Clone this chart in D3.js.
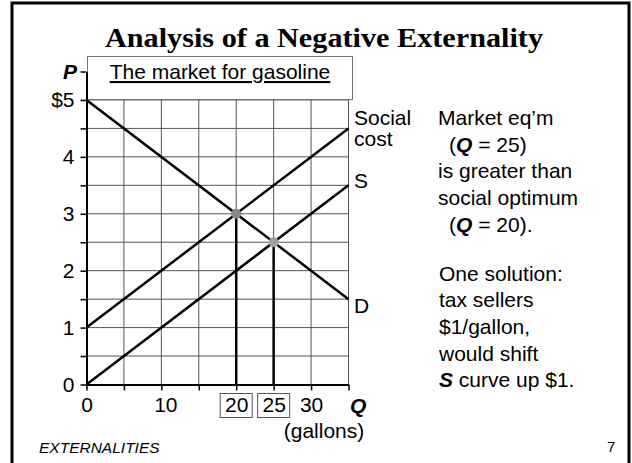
<!DOCTYPE html>
<html lang="en">
<head>
  <meta charset="UTF-8">
  <title>Analysis of a Negative Externality</title>
  <script src="https://d3js.org/d3.v7.min.js"></script>
  <style>
    body { margin: 0; background: #fff; }
    text { font-family: "Liberation Sans", Arial, sans-serif; fill: #000; }
  </style>
</head>
<body>
<script>
  // quantities (gallons) and prices ($)
  const qTicks = [0, 10, 20, 25, 30];
  const boxedQ = [20, 25];
  const pTicks = [0, 1, 2, 3, 4, 5];
  // curves as [Q, P] end points
  const demand = [[0, 5], [35, 1.5]];
  const supply = [[0, 0], [35, 3.5]];
  const socialCost = [[0, 1], [35, 4.5]];
  // equilibria: social optimum and market eq'm
  const points = [[20, 3], [25, 2.5]];
  const pointColors = ["#888", "#a0a0a0"];

  const W = 632, H = 463;
  const FS = "21px";
  const svg = d3.select("body").append("svg")
    .attr("width", W).attr("height", H);

  // slide frame
  svg.append("rect")
    .attr("x", 12).attr("y", 3).attr("width", 617).attr("height", 520)
    .attr("fill", "none").attr("stroke", "#000").attr("stroke-width", 3);

  svg.append("text")
    .attr("x", 105).attr("y", 47)
    .attr("textLength", 438).attr("lengthAdjust", "spacingAndGlyphs")
    .style("font-family", "'Liberation Serif', 'DejaVu Serif', serif")
    .style("font-weight", "bold").style("font-size", "28px")
    .text("Analysis of a Negative Externality");

  const x = d3.scaleLinear().domain([0, 35]).range([86.5, 348.5]);
  const y = d3.scaleLinear().domain([0, 5.5]).range([384.5, 71.5]);

  // grid
  const g = svg.append("g");
  g.selectAll("line.v").data(d3.range(5, 36, 5)).enter().append("line")
    .attr("x1", d => x(d)).attr("x2", d => x(d))
    .attr("y1", y(0)).attr("y2", y(5))
    .attr("stroke", "#555").attr("stroke-width", 1);
  g.selectAll("line.h").data(d3.range(0.5, 5.01, 0.5)).enter().append("line")
    .attr("x1", x(0)).attr("x2", x(35))
    .attr("y1", d => y(d)).attr("y2", d => y(d))
    .attr("stroke", "#555").attr("stroke-width", 1);

  // title box
  svg.append("rect")
    .attr("x", 87.5).attr("y", 56.5).attr("width", 265).attr("height", 43)
    .attr("fill", "#fff").attr("stroke", "#777").attr("stroke-width", 1);
  svg.append("text")
    .attr("x", 220).attr("y", 79).attr("text-anchor", "middle")
    .style("font-size", FS).style("text-decoration", "underline")
    .text("The market for gasoline");

  // axes
  const yAxis = svg.append("g")
    .attr("transform", `translate(${x(0)},0)`)
    .call(d3.axisLeft(y).tickValues(d3.range(0, 5.51, 0.5)).tickSize(6).tickSizeOuter(0)
      .tickFormat(d => pTicks.includes(d) ? (d === 5 ? "$5" : d) : ""));
  const xAxis = svg.append("g")
    .attr("transform", `translate(0,${y(0)})`)
    .call(d3.axisBottom(x).tickValues(d3.range(0, 36, 5)).tickSize(6).tickSizeOuter(0)
      .tickFormat(d => qTicks.includes(d) ? d : ""));
  [yAxis, xAxis].forEach(a => {
    a.select(".domain").attr("stroke", "#000").attr("stroke-width", 2);
    a.selectAll(".tick line").attr("stroke", "#000").attr("stroke-width", 1.5);
    a.selectAll("text").style("font-family", "'Liberation Sans', Arial, sans-serif")
      .style("font-size", FS).attr("fill", "#000");
  });
  yAxis.selectAll(".tick text").attr("x", -12);
  xAxis.selectAll(".tick text").attr("y", 13)
    .attr("dx", d => d === 10 ? 4 : 0);

  // boxes round the two quantities
  svg.selectAll("rect.qbox").data(boxedQ).enter().append("rect")
    .attr("x", d => x(d) - 16).attr("y", 393.5).attr("width", 32).attr("height", 24)
    .attr("fill", "none").attr("stroke", "#555").attr("stroke-width", 1);

  svg.append("text").attr("x", 63).attr("y", 79)
    .style("font-weight", "bold").style("font-style", "italic").style("font-size", FS)
    .text("P");
  svg.append("text").attr("x", 350).attr("y", 413)
    .style("font-weight", "bold").style("font-style", "italic").style("font-size", FS)
    .text("Q");
  svg.append("text").attr("x", 324).attr("y", 438).attr("text-anchor", "middle")
    .style("font-size", FS).text("(gallons)");

  // drop lines
  svg.selectAll("line.drop").data(points).enter().append("line")
    .attr("x1", d => x(d[0])).attr("x2", d => x(d[0]))
    .attr("y1", d => y(d[1])).attr("y2", y(0))
    .attr("stroke", "#000").attr("stroke-width", 2.5);

  // curves
  const line = d3.line().x(d => x(d[0])).y(d => y(d[1]));
  [demand, supply, socialCost].forEach(c => {
    svg.append("path").attr("d", line(c))
      .attr("fill", "none").attr("stroke", "#000").attr("stroke-width", 2.5);
  });

  svg.selectAll("circle.eq").data(points).enter().append("circle")
    .attr("cx", d => x(d[0])).attr("cy", d => y(d[1])).attr("r", 5)
    .attr("fill", (d, i) => pointColors[i]);

  // curve labels
  const lab = (t, px, py) => svg.append("text").attr("x", px).attr("y", py)
    .style("font-size", FS).text(t);
  lab("Social", 354, 125);
  lab("cost", 354, 146);
  lab("S", 354, 188);
  lab("D", 354, 313);

  // side notes
  const note = (parts, px, py) => {
    const t = svg.append("text").attr("x", px).attr("y", py).style("font-size", FS);
    parts.forEach(p => {
      t.append("tspan").text(p[0])
        .style("font-weight", p[1] ? "bold" : null)
        .style("font-style", p[1] ? "italic" : null);
    });
  };
  note([["Market eq’m"]], 438, 125);
  note([["("], ["Q", 1], [" = 25)"]], 449, 152);
  note([["is greater than"]], 438, 178);
  note([["social optimum"]], 438, 205);
  note([["("], ["Q", 1], [" = 20)."]], 449, 232);
  note([["One solution:"]], 439, 281);
  note([["tax sellers"]], 439, 307);
  note([["$1/gallon,"]], 439, 334);
  note([["would shift"]], 439, 361);
  note([["S", 1], [" curve up $1."]], 439, 387);

  svg.append("text").attr("x", 39).attr("y", 453)
    .style("font-style", "italic").style("font-size", "15.5px").text("EXTERNALITIES");
  svg.append("text").attr("x", 607).attr("y", 452)
    .style("font-size", "15px").text("7");
</script>
</body>
</html>
